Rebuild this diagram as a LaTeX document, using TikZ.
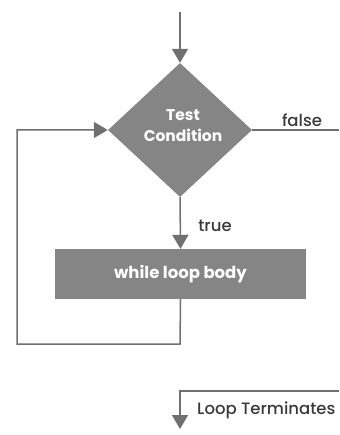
\documentclass[tikz,border=0pt]{standalone}
\usepackage{fontspec}
\setmainfont{Poppins}
\newfontfamily\medfont{Poppins Medium}
\usetikzlibrary{shapes.geometric,arrows.meta}
\definecolor{shapegray}{HTML}{858585}
\definecolor{linegray}{HTML}{707070}
\definecolor{textgray}{HTML}{3A3A3A}
\tikzset{
  conn/.style={draw=linegray, line width=1.5pt},
  arr/.style={conn, -{Triangle[width=16pt,length=14pt]}},
  cond/.style={diamond, fill=shapegray, minimum width=144pt, minimum height=134pt, inner sep=0pt, text=white, font=\fontsize{15.5}{21}\selectfont\bfseries, align=center},
  body/.style={rectangle, fill=shapegray, minimum width=251pt, minimum height=50pt, inner sep=0pt, text=white, font=\fontsize{16.5}{20}\selectfont\bfseries},
  lbl/.style={text=textgray, font=\fontsize{16.5}{20}\selectfont\medfont, inner sep=0pt}
}
\begin{document}
\begin{tikzpicture}[x=1pt,y=-1pt]
\useasboundingbox (0,0) rectangle (339,435);
\coordinate (top) at (180,12);
\node[cond] (c) at (180,130) {};
\node[text=white, font=\fontsize{15.5}{21}\selectfont\bfseries, align=center, inner sep=0pt] (ct) at (183,126) {Test\\Condition};
\node[body] (b) at (180.5,274) {while loop body};
\coordinate (fend) at (339,130);
\coordinate (lb) at (180,344);
\coordinate (ll) at (17,344);
\coordinate (lt) at (17,130);
\coordinate (tstart) at (339,391);
\coordinate (tcorner) at (180,391);
\coordinate (tend) at (180,429);
\draw[arr] (top) -- (c.north);
\draw[arr] (c.south) -- (b.north);
\draw[conn] (c.east) -- (fend);
\draw[arr] (b.south) -- (lb) -- (ll) -- (lt) -- (c.west);
\draw[arr] (tstart) -- (tcorner) -- (tend);
\node[lbl] (f) at (302,120) {false};
\node[lbl] (t) at (215,226) {true};
\node[lbl, anchor=west] (lt2) at (197,410) {Loop Terminates};
\end{tikzpicture}
\end{document}
